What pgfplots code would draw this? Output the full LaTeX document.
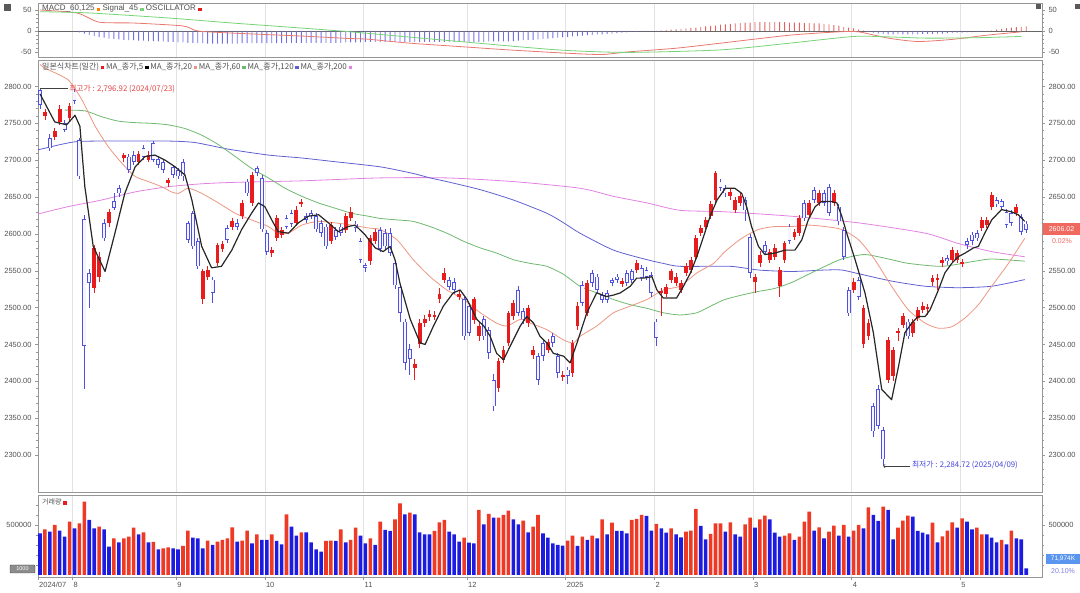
\documentclass[border=0pt]{standalone}
\usepackage{fontspec}
\setmainfont{Liberation Sans}
\newfontfamily\kr{Noto Sans CJK KR}
\usepackage{pgfplots}
\usepackage{pgfplotstable}
\pgfplotsset{compat=1.18}

\definecolor{cred}{RGB}{232,28,28}
\definecolor{cblue}{RGB}{80,80,225}
\definecolor{cblin}{RGB}{245,245,255}
\definecolor{vred}{RGB}{238,58,36}
\definecolor{vblue}{RGB}{28,28,225}
\definecolor{ma20}{RGB}{236,150,130}
\definecolor{ma60}{RGB}{110,185,110}
\definecolor{ma120}{RGB}{95,95,210}
\definecolor{ma200}{RGB}{225,130,225}
\definecolor{gridc}{RGB}{226,226,226}
\definecolor{framec}{RGB}{150,150,150}
\definecolor{macdc}{RGB}{232,120,110}
\definecolor{sigc}{RGB}{120,210,120}
\definecolor{oscb}{RGB}{110,110,230}
\definecolor{oscr}{RGB}{225,100,100}
\definecolor{txtc}{RGB}{80,80,80}
\definecolor{annred}{RGB}{225,70,70}
\definecolor{annblue}{RGB}{70,70,220}
\definecolor{tagred}{RGB}{240,105,95}
\definecolor{tagblue}{RGB}{90,150,240}

\newcommand{\sq}[1]{\textcolor{#1}{\rule{3.4pt}{3.4pt}}}

\pgfplotstableread{
i o h l c
0 2795 2797 2770 2775
1 2760 2770 2755 2766
2 2730 2735 2713 2716
3 2732 2744 2728 2740
4 2752 2775 2748 2770
5 2750 2755 2738 2741
6 2757 2778 2752 2773
7 2793 2796 2776 2780
8 2727 2730 2674 2678
9 2620 2626 2390 2448
10 2547 2552 2500 2533
11 2527 2585 2520 2581
12 2542 2575 2535 2569
13 2615 2620 2590 2594
14 2615 2634 2610 2630
15 2644 2655 2632 2635
16 2662 2667 2650 2655
17 2703 2710 2698 2707
18 2705 2709 2683 2687
19 2707 2712 2694 2698
20 2698 2712 2694 2709
21 2716 2720 2700 2705
22 2700 2712 2697 2707
23 2723 2726 2697 2700
24 2702 2706 2689 2694
25 2698 2702 2683 2687
26 2669 2676 2664 2673
27 2691 2694 2676 2680
28 2687 2690 2674 2678
29 2698 2702 2672 2678
30 2615 2618 2588 2592
31 2628 2631 2580 2583
32 2590 2594 2552 2556
33 2511 2553 2505 2549
34 2542 2556 2538 2551
35 2538 2542 2506 2520
36 2560 2588 2556 2585
37 2580 2590 2575 2586
38 2608 2612 2588 2592
39 2610 2621 2605 2617
40 2615 2620 2605 2610
41 2624 2646 2620 2642
42 2671 2675 2651 2655
43 2642 2684 2638 2680
44 2689 2692 2678 2683
45 2676 2680 2602 2606
46 2601 2605 2571 2576
47 2574 2582 2568 2578
48 2594 2625 2590 2621
49 2598 2609 2594 2605
50 2621 2625 2606 2610
51 2628 2632 2610 2614
52 2615 2638 2611 2633
53 2640 2648 2636 2643
54 2624 2628 2615 2619
55 2628 2632 2620 2624
56 2624 2628 2602 2606
57 2615 2619 2596 2601
58 2610 2614 2579 2583
59 2590 2616 2586 2612
60 2605 2609 2592 2596
61 2610 2614 2597 2601
62 2605 2628 2601 2624
63 2621 2636 2617 2630
64 2614 2618 2603 2608
65 2590 2594 2560 2565
66 2558 2561 2548 2554
67 2563 2598 2558 2594
68 2590 2607 2586 2603
69 2605 2609 2576 2580
70 2601 2606 2578 2583
71 2601 2608 2570 2574
72 2560 2565 2525 2530
73 2528 2532 2480 2493
74 2481 2485 2415 2425
75 2444 2450 2408 2430
76 2418 2430 2402 2424
77 2450 2485 2445 2479
78 2479 2490 2474 2485
79 2487 2497 2482 2492
80 2488 2496 2483 2490
81 2511 2526 2506 2518
82 2538 2554 2533 2547
83 2537 2542 2524 2528
84 2535 2540 2519 2524
85 2514 2523 2510 2519
86 2511 2515 2456 2461
87 2502 2506 2462 2466
88 2483 2515 2478 2511
89 2461 2480 2455 2475
90 2484 2488 2456 2461
91 2470 2474 2430 2438
92 2402 2410 2360 2366
93 2391 2432 2385 2427
94 2429 2448 2425 2443
95 2452 2496 2448 2492
96 2488 2510 2483 2506
97 2524 2529 2488 2493
98 2495 2499 2478 2484
99 2479 2504 2474 2499
100 2436 2448 2430 2443
101 2434 2438 2395 2402
102 2452 2458 2428 2434
103 2443 2458 2438 2454
104 2461 2466 2447 2452
105 2434 2438 2404 2411
106 2406 2414 2400 2409
107 2416 2420 2396 2407
108 2411 2456 2406 2452
109 2475 2507 2470 2502
110 2531 2536 2502 2506
111 2493 2537 2489 2533
112 2547 2551 2528 2533
113 2542 2546 2520 2524
114 2517 2521 2506 2511
115 2520 2524 2506 2511
116 2537 2540 2530 2534
117 2542 2546 2534 2538
118 2532 2540 2528 2536
119 2547 2551 2529 2533
120 2549 2553 2534 2538
121 2551 2565 2547 2560
122 2554 2558 2536 2540
123 2551 2555 2538 2542
124 2544 2548 2515 2520
125 2481 2485 2448 2459
126 2520 2527 2488 2523
127 2519 2532 2514 2528
128 2538 2553 2534 2549
129 2533 2547 2529 2542
130 2524 2538 2520 2533
131 2547 2560 2543 2556
132 2551 2569 2547 2565
133 2569 2598 2565 2594
134 2601 2612 2597 2608
135 2610 2623 2606 2619
136 2624 2645 2620 2640
137 2646 2685 2642 2682
138 2671 2675 2658 2662
139 2662 2666 2650 2655
140 2651 2661 2646 2657
141 2632 2650 2628 2646
142 2642 2656 2638 2651
143 2646 2650 2618 2632
144 2596 2600 2540 2547
145 2535 2546 2520 2542
146 2560 2577 2555 2572
147 2585 2590 2572 2576
148 2565 2580 2560 2576
149 2569 2586 2564 2581
150 2529 2555 2515 2551
151 2565 2591 2560 2587
152 2610 2614 2586 2590
153 2596 2607 2592 2603
154 2601 2626 2597 2621
155 2642 2646 2617 2621
156 2626 2646 2622 2642
157 2660 2664 2642 2646
158 2642 2659 2638 2655
159 2655 2660 2638 2642
160 2664 2668 2624 2628
161 2642 2660 2638 2655
162 2637 2641 2612 2617
163 2605 2609 2565 2569
164 2524 2528 2488 2492
165 2524 2540 2520 2535
166 2537 2541 2510 2515
167 2450 2503 2445 2499
168 2461 2484 2456 2479
169 2366 2370 2325 2332
170 2389 2395 2335 2339
171 2334 2338 2285 2294
172 2402 2460 2398 2456
173 2407 2447 2400 2443
174 2465 2472 2455 2468
175 2477 2492 2473 2488
176 2481 2485 2457 2461
177 2465 2485 2460 2481
178 2486 2501 2482 2497
179 2497 2507 2492 2502
180 2498 2505 2490 2501
181 2535 2544 2530 2540
182 2537 2545 2524 2540
183 2561 2568 2555 2564
184 2567 2571 2558 2563
185 2565 2582 2560 2578
186 2565 2578 2561 2574
187 2559 2566 2555 2562
188 2590 2594 2580 2585
189 2599 2603 2585 2590
190 2601 2605 2590 2594
191 2608 2623 2604 2619
192 2612 2623 2608 2619
193 2637 2657 2633 2653
194 2646 2650 2636 2640
195 2644 2648 2633 2637
196 2630 2634 2608 2612
197 2628 2632 2611 2615
198 2628 2641 2624 2637
199 2623 2627 2598 2603
200 2614 2618 2601 2605
}\ohlc

\pgfplotstableread{
i v r
0 417 0
1 457 1
2 433 0
3 500 1
4 443 0
5 383 0
6 533 1
7 467 0
8 517 1
9 733 1
10 550 0
11 467 0
12 483 1
13 457 0
14 283 0
15 367 1
16 327 0
17 367 1
18 383 1
19 473 1
20 407 0
21 427 1
22 327 0
23 330 1
24 257 0
25 267 1
26 277 1
27 267 0
28 257 0
29 290 1
30 443 1
31 373 0
32 367 0
33 267 0
34 343 1
35 300 0
36 333 1
37 350 1
38 367 1
39 477 1
40 333 0
41 343 1
42 443 1
43 317 0
44 407 1
45 350 0
46 350 0
47 407 1
48 341 0
49 307 0
50 607 1
51 483 0
52 393 0
53 427 1
54 427 0
55 327 0
56 257 0
57 233 0
58 341 1
59 343 1
60 341 0
61 457 1
62 327 0
63 350 1
64 473 1
65 393 0
66 317 0
67 367 1
68 300 0
69 533 1
70 450 0
71 440 0
72 557 1
73 717 1
74 607 0
75 623 1
76 607 0
77 427 0
78 407 0
79 407 0
80 440 1
81 527 1
82 550 1
83 433 0
84 407 0
85 333 0
86 373 1
87 323 0
88 317 0
89 650 1
90 507 0
91 610 1
92 573 0
93 573 1
94 600 1
95 643 1
96 557 0
97 507 0
98 543 1
99 427 0
100 483 1
101 600 1
102 417 0
103 373 0
104 317 0
105 300 0
106 293 0
107 343 1
108 393 1
109 290 0
110 383 1
111 350 0
112 393 1
113 367 0
114 557 1
115 405 0
116 523 1
117 440 0
118 440 0
119 417 0
120 550 1
121 560 1
122 600 1
123 590 0
124 443 0
125 510 1
126 467 0
127 423 0
128 467 1
129 407 0
130 377 0
131 433 1
132 443 1
133 660 1
134 490 0
135 357 0
136 410 1
137 517 1
138 517 1
139 433 0
140 527 1
141 407 0
142 383 0
143 507 1
144 573 1
145 473 0
146 557 1
147 593 1
148 557 0
149 423 0
150 383 0
151 393 1
152 417 1
153 350 0
154 383 1
155 533 1
156 633 1
157 443 0
158 477 1
159 367 0
160 433 1
161 493 1
162 393 0
163 500 1
164 383 0
165 443 1
166 500 1
167 467 0
168 677 1
169 600 0
170 540 0
171 683 1
172 650 0
173 357 0
174 473 1
175 543 1
176 593 1
177 583 0
178 440 0
179 423 0
180 407 0
181 523 1
182 327 0
183 387 1
184 443 1
185 527 1
186 473 0
187 567 1
188 533 0
189 457 0
190 473 1
191 407 1
192 407 0
193 373 0
194 327 0
195 350 1
196 307 0
197 443 1
198 367 0
199 357 0
200 67 0
}\vol

\pgfplotstableread{
i v
8 -3
9 -6
10 -9
11 -12
12 -14
13 -16
14 -18
15 -19
16 -20
17 -21
18 -22
19 -22
20 -23
21 -23
22 -24
23 -24
24 -25
25 -25
26 -26
27 -26
28 -27
29 -27
30 -28
31 -28
32 -29
33 -29
34 -30
35 -30
36 -30
37 -30
38 -30
39 -30
40 -30
41 -29
42 -29
43 -29
44 -29
45 -29
46 -29
47 -29
48 -29
49 -29
50 -29
51 -28
52 -28
53 -28
54 -28
55 -28
56 -28
57 -28
58 -28
59 -28
60 -28
61 -28
62 -27
63 -27
64 -27
65 -27
66 -26
67 -26
68 -26
69 -26
70 -26
71 -26
72 -26
73 -26
74 -26
75 -26
76 -26
77 -26
78 -26
79 -26
80 -26
81 -26
82 -26
83 -26
84 -26
85 -26
86 -26
87 -26
88 -26
89 -26
90 -26
91 -25
92 -25
93 -25
94 -25
95 -25
96 -24
97 -23
98 -22
99 -21
100 -21
101 -20
102 -19
103 -18
104 -17
105 -16
106 -15
107 -14
108 -13
109 -12
110 -11
111 -10
112 -9
113 -8
114 -8
115 -7
116 -6
117 -5
118 -4
119 -3
120 -2
121 -2
122 -1
123 -1
124 -1
125 -1
126 1
127 2
128 3
129 4
130 5
131 6
132 7
133 8
134 10
135 11
136 12
137 13
138 15
139 16
140 17
141 18
142 19
143 20
144 20
145 21
146 21
147 21
148 21
149 21
150 21
151 21
152 20
153 20
154 20
155 19
156 19
157 18
158 18
159 17
160 16
161 14
162 12
163 10
164 8
165 6
166 3
167 1
168 -2
169 -4
170 -6
171 -7
172 -8
173 -8
174 -8
175 -8
176 -8
177 -8
178 -8
179 -7
180 -7
181 -7
182 -6
183 -6
184 -5
185 -5
186 -4
187 -4
188 -3
189 -3
190 -2
191 -1
192 -1
193 1
194 3
195 5
196 7
197 8
198 9
199 10
200 11
}\osc

\pgfplotsset{
  panel/.style={
    scale only axis, width=1004pt, xmin=-0.4, xmax=203.2,
    axis line style={framec, line width=0.6pt},
    tick style={framec, line width=0.5pt},
    tick align=outside, major tick length=3pt, minor tick length=1.6pt,
    ticklabel style={font=\fontsize{7.5}{8}\selectfont, text=txtc},
    /pgf/number format/assume math mode=true,
    xtick={-0.4,6.6,27.6,45.6,65.6,86.6,106.6,124.6,144.6,164.6,186.6},
    xmajorgrids, major grid style={gridc, line width=0.6pt},
    ytick pos=left,
  },
  twin/.style={
    scale only axis, width=1004pt, xmin=-0.4, xmax=203.2,
    axis x line=none, axis y line*=right,
    axis line style={framec, line width=0.6pt},
    tick style={framec, line width=0.5pt},
    tick align=outside, major tick length=3pt, minor tick length=1.6pt,
    ticklabel style={font=\fontsize{7.5}{8}\selectfont, text=txtc},
    /pgf/number format/assume math mode=true,
  },
  candle/.style={draw=none, mark=none, restrict y to domain=1000:4000,
    error bars/.cd, y dir=both, y explicit, error mark=none},
}

\begin{document}
\begin{tikzpicture}
\path[use as bounding box] (0pt,0pt) rectangle (1080pt,593pt);

% ================= MACD panel =================
\begin{axis}[panel, at={(38pt,536pt)}, anchor=south west, height=54pt,
  ymin=-61.9, ymax=66.7, ytick={-50,0,50}, minor y tick num=4,
  xticklabels={}, xtick style={draw=none}]
\draw[black!60, line width=0.6pt] (axis cs:-0.4,0) -- (axis cs:203.2,0);
\addplot[ybar, bar width=0.9pt, bar shift=0pt, fill=oscb, draw=none,
  restrict y to domain=-100:-0.01] table[x=i,y=v]{\osc};
\addplot[ybar, bar width=0.9pt, bar shift=0pt, fill=oscr, draw=none,
  restrict y to domain=0.01:100] table[x=i,y=v]{\osc};
\addplot[macdc, line width=0.8pt, smooth, tension=0.4] coordinates {
(0,50) (7.5,43) (12,21) (19,19) (29,12) (32,0) (39,-5) (53,-12) (63,-18) (66,-19)
(75,-29) (85,-37) (95,-45) (107,-53) (114,-56) (119,-50) (129,-41) (138,-29)
(152,-10) (162,-2) (166,-2) (172,-17) (178,-25) (185,-20) (192,-10) (199,-2)};
\addplot[sigc, line width=0.8pt, smooth, tension=0.4] coordinates {
(0,46) (10,43) (26,31) (39,19) (53,7) (63,-2) (85,-25) (105,-45) (119,-51)
(138,-45) (152,-29) (165,-13) (172,-14) (180,-17) (190,-16) (199,-13)};
\node[anchor=west, inner sep=0pt, font=\fontsize{8}{9}\selectfont, text=txtc]
  at (rel axis cs:0.004,0.89) {MACD\_60,125 \sq{orange} Signal\_45 \sq{sigc} OSCILLATOR \sq{cred}};
\end{axis}
\begin{axis}[twin, at={(38pt,536pt)}, anchor=south west, height=54pt,
  ymin=-61.9, ymax=66.7, ytick={-50,0,50}, minor y tick num=4]
\addplot[draw=none] coordinates {(0,0)};
\end{axis}

% ================= Main panel =================
\begin{axis}[panel, at={(38pt,101pt)}, anchor=south west, height=432pt,
  ymin=2249.8, ymax=2836, ytick={2300,2350,...,2800}, minor y tick num=4,
  yticklabel style={/pgf/number format/.cd, fixed, fixed zerofill, precision=2, 1000 sep={}},
  xticklabels={}, xtick style={draw=none}]
% moving averages (under candles)
\addplot[ma200, line width=0.8pt, smooth, tension=0.4] coordinates {
(-0.4,2627) (5.7,2637) (12.5,2646) (19.3,2657) (26,2664) (32.8,2668) (39.6,2670)
(53.1,2672) (69,2676) (82.5,2676) (96,2671) (109.5,2662) (116.3,2651) (123.1,2642)
(129.8,2632) (138.9,2630) (152.4,2624) (166,2615) (179.5,2601) (186.2,2587)
(193,2576) (199.7,2569)};
\addplot[ma120, line width=0.8pt, smooth, tension=0.4] coordinates {
(-0.4,2714) (7.1,2725) (15.9,2726) (26,2726) (31.4,2724) (38.2,2715) (46.3,2707)
(53.1,2703) (59.8,2698) (69,2691) (75.7,2682) (79.1,2676) (82.5,2671) (89.3,2660)
(96,2646) (102.8,2628) (106.2,2615) (109.5,2601) (116.3,2578) (123.1,2565)
(126.4,2560) (129.8,2556) (140,2556) (145.7,2551) (152.4,2549) (159.2,2551)
(162.6,2551) (166,2546) (172.7,2536) (179.5,2529) (186.2,2527) (193,2529) (199.7,2538)};
\addplot[ma60, line width=0.8pt, smooth, tension=0.4] coordinates {
(5,2768) (9.1,2767) (12.5,2759) (15.9,2753) (19.3,2751) (22.7,2750) (26,2748)
(29.4,2743) (32.8,2734) (36.2,2721) (39.6,2705) (42.9,2689) (46.3,2676) (49.7,2662)
(53.1,2651) (56.5,2642) (59.8,2635) (63.2,2628) (66.6,2624) (69,2621) (72.4,2619)
(75.7,2617) (79.1,2610) (82.5,2601) (85.9,2590) (89.3,2581) (92.6,2574) (96,2565)
(99.4,2560) (102.8,2556) (106.2,2545) (109.5,2529) (112.9,2520) (116.3,2511)
(119.7,2504) (123.1,2499) (126.4,2493) (129.8,2490) (133.2,2493) (136.6,2504)
(138.9,2511) (142.3,2517) (145.7,2522) (149,2526) (152.4,2534) (155.8,2545)
(159.2,2556) (162.6,2566) (167.3,2572) (172.7,2565) (176.1,2560) (182.9,2556)
(189.6,2563) (193,2566) (199.7,2563)};
\addplot[ma20, line width=0.8pt, smooth, tension=0.4] coordinates {
(0,2830) (1,2825) (5.7,2809) (8.5,2782) (11.2,2746) (13.9,2718) (16.6,2696)
(19.3,2678) (22,2671) (24.7,2664) (26.7,2657) (28.1,2655) (30.1,2662) (32.8,2655)
(36.2,2642) (39.6,2628) (42.9,2619) (46.3,2610) (48.3,2601) (50.4,2601) (53.1,2612)
(56.5,2617) (59.8,2615) (63.2,2612) (66.6,2608) (69,2606) (72.4,2592) (75.7,2565)
(79.1,2542) (82.5,2524) (85.9,2511) (89.3,2493) (92.6,2479) (94.7,2475) (97.4,2484)
(99.4,2479) (102.8,2470) (106.2,2456) (108.2,2452) (109.5,2461) (112.9,2475)
(116.3,2493) (119.7,2502) (123.1,2511) (126.4,2524) (129.8,2529) (133.2,2547)
(136.6,2560) (138.9,2576) (142.3,2594) (145.7,2606) (149,2610) (152.4,2610)
(155.8,2612) (159.2,2610) (162.6,2606) (166,2592) (169.3,2565) (172.7,2529)
(176.1,2497) (179.5,2479) (182.2,2472) (184.9,2474) (187.6,2486) (190.3,2504)
(193,2529) (196.4,2560) (199.7,2594)};

% candles: wicks
\addplot[candle, error bar style={draw=cred, line width=0.7pt}]
  table[x=i, y expr={\thisrow{c}>=\thisrow{o} ? (\thisrow{h}+\thisrow{l})/2 : 0},
        y error expr={(\thisrow{h}-\thisrow{l})/2}] {\ohlc};
\addplot[candle, error bar style={draw=cblue, line width=0.7pt}]
  table[x=i, y expr={\thisrow{c}<\thisrow{o} ? (\thisrow{h}+\thisrow{l})/2 : 0},
        y error expr={(\thisrow{h}-\thisrow{l})/2}] {\ohlc};
% candles: bodies
\addplot[candle, error bar style={draw=cred, line width=3.8pt}]
  table[x=i, y expr={\thisrow{c}>=\thisrow{o} ? (\thisrow{o}+\thisrow{c})/2 : 0},
        y error expr={max(abs(\thisrow{c}-\thisrow{o})/2,0.7)}] {\ohlc};
\addplot[candle, error bar style={draw=cblue, line width=3.9pt}]
  table[x=i, y expr={\thisrow{c}<\thisrow{o} ? (\thisrow{o}+\thisrow{c})/2 : 0},
        y error expr={max(abs(\thisrow{c}-\thisrow{o})/2,0.7)}] {\ohlc};
\addplot[candle, error bar style={draw=cblin, line width=2.3pt}]
  table[x=i, y expr={\thisrow{c}<\thisrow{o} ? (\thisrow{o}+\thisrow{c})/2 : 0},
        y error expr={max(abs(\thisrow{c}-\thisrow{o})/2-1.1,0)}] {\ohlc};

% MA5 on top
\addplot[black!85, line width=1.2pt, line join=round] coordinates {
(0,2790) (3,2752) (5.4,2748) (7.1,2761) (8.1,2746) (9.1,2664) (10.8,2583) (13.2,2549)
(15.2,2601) (17.2,2655) (19.3,2691) (21.3,2705) (23.3,2707) (25.4,2700) (27.4,2691)
(29.4,2680) (30.8,2646) (32.8,2583) (34.8,2554) (36.8,2556) (38.9,2578) (40.9,2606)
(42.9,2628) (44.3,2642) (45.6,2637) (47,2619) (48.3,2603) (50.4,2601) (52.4,2615)
(54.4,2624) (56.5,2626) (58.5,2615) (60.5,2603) (62.5,2610) (63.9,2612) (65.9,2599)
(68,2581) (69.6,2576) (71,2583) (72,2565) (73,2533) (75.1,2484) (77.1,2452) (78.1,2450)
(79.8,2475) (81.8,2502) (83.8,2520) (85.2,2524) (86.6,2511) (88.6,2484) (90,2475)
(91.3,2461) (92.6,2438) (94,2429) (95.3,2447) (97.4,2475) (98.7,2488) (100.1,2479)
(101.4,2461) (102.8,2452) (104.1,2438) (106.2,2434) (107.5,2425) (108.9,2452)
(110.9,2493) (112.9,2520) (114.9,2515) (116.3,2517) (117.7,2520) (119.7,2529)
(121,2540) (122.4,2540) (124.1,2542) (125.1,2524) (126.4,2513) (129.1,2513)
(130.5,2529) (131.9,2547) (133.2,2569) (134.6,2597) (135.9,2624) (137.3,2646)
(139,2662) (140.9,2662) (142.3,2655) (143.3,2637) (144.3,2610) (145.7,2583)
(147,2572) (149,2574) (151.1,2578) (153.1,2578) (154.5,2592) (155.8,2619)
(157.2,2637) (158.5,2644) (160.5,2644) (161.6,2642) (162.6,2624) (163.6,2601)
(165.3,2565) (167.3,2520) (169,2466) (170.7,2389) (172.7,2375) (174.1,2420)
(175.4,2466) (176.8,2479) (178.1,2488) (179.5,2488) (180.5,2497) (182.2,2524)
(183.5,2547) (184.9,2560) (186.2,2569) (187.6,2574) (189.3,2581) (190.3,2583)
(191.6,2601) (193,2619) (195,2633) (197,2630) (198.4,2626) (199.7,2617)};

% annotations
\draw[black!75, line width=0.8pt] (axis cs:0,2797) -- (axis cs:5.6,2797);
\node[anchor=west, inner sep=1pt, text=annred, font=\kr\fontsize{7.8}{8.5}\selectfont]
  at (axis cs:5.7,2797) {최고가 : 2,796.92 (2024/07/23)};
\draw[black!75, line width=0.6pt, <-] (axis cs:171,2285) -- (axis cs:176.5,2285);
\node[anchor=west, inner sep=1pt, text=annblue, font=\kr\fontsize{7.8}{8.5}\selectfont]
  at (axis cs:176.6,2286) {최저가 : 2,284.72 (2025/04/09)};
\node[anchor=west, inner sep=0pt, text=txtc, font=\kr\fontsize{8}{9}\selectfont]
  at (rel axis cs:0.004,0.984) {일본식차트(일간) \sq{cred} MA\_종가,5 \sq{black} MA\_종가,20 \sq{ma20} MA\_종가,60 \sq{ma60} MA\_종가,120 \sq{ma120} MA\_종가,200 \sq{ma200}};
\end{axis}
\begin{axis}[twin, at={(38pt,101pt)}, anchor=south west, height=432pt,
  ymin=2249.8, ymax=2836, ytick={2300,2350,2400,2450,2500,2550,2650,2700,2750,2800},
  minor ytick={2260,2270,...,2830},
  yticklabel style={/pgf/number format/.cd, fixed, fixed zerofill, precision=2, 1000 sep={}}]
\addplot[draw=none] coordinates {(0,2500)};
\end{axis}

% ================= Volume panel =================
\begin{axis}[panel, at={(38pt,16pt)}, anchor=south west, height=82pt,
  ymin=-20, ymax=800, ytick={500}, yticklabels={500000},
  minor ytick={100,200,300,400,600,700},
  xtick pos=left,
  xticklabels={2024/07,8,9,10,11,12,2025,2,3,4,5},
  xticklabel style={anchor=north west, inner xsep=1pt, yshift=1pt}]
\addplot[ybar, bar width=3.6pt, bar shift=0pt, fill=vred, draw=none,
  restrict y to domain=0:2000]
  table[x=i, y expr={\thisrow{r}>0.5 ? \thisrow{v} : -1000}] {\vol};
\addplot[ybar, bar width=3.6pt, bar shift=0pt, fill=vblue, draw=none,
  restrict y to domain=0:2000]
  table[x=i, y expr={\thisrow{r}<0.5 ? \thisrow{v} : -1000}] {\vol};
\node[anchor=west, inner sep=0pt, text=txtc, font=\kr\fontsize{7}{8}\selectfont]
  at (rel axis cs:0.004,0.915) {거래량 \sq{cred}};
\end{axis}
\begin{axis}[twin, at={(38pt,16pt)}, anchor=south west, height=82pt,
  ymin=-20, ymax=800, ytick={500}, yticklabels={500000},
  minor ytick={100,200,300,400,600,700}]
\addplot[draw=none] coordinates {(0,100)};
\end{axis}

% ================= tags and icons =================
\fill[tagred] (1043pt,358pt) rectangle (1080pt,370pt);
\node[text=white, font=\fontsize{7}{8}\selectfont, inner sep=0pt] at (1061.5pt,364pt) {2606.02};
\node[text=tagred, font=\fontsize{7}{8}\selectfont, inner sep=0pt] at (1062pt,352pt) {0.02\%};
\fill[tagblue] (1046pt,29pt) rectangle (1080pt,39pt);
\node[text=white, font=\fontsize{6.5}{7}\selectfont, inner sep=0pt] at (1063pt,34pt) {71,974K};
\node[text=annblue!70, font=\fontsize{7}{8}\selectfont, inner sep=0pt] at (1063pt,22pt) {20.10\%};
\draw[black!70, fill=black!45, rounded corners=1pt] (10pt,20pt) rectangle (35pt,28pt);
\node[text=white, font=\fontsize{5.5}{6}\selectfont, inner sep=0pt] at (22.5pt,24pt) {1000};
\fill[black!65] (4pt,582pt) rectangle (11pt,589pt);
\fill[black!65] (1036pt,584pt) rectangle (1041pt,589pt);
\fill[black!65] (1075pt,584pt) rectangle (1080pt,589pt);
\end{tikzpicture}
\end{document}
